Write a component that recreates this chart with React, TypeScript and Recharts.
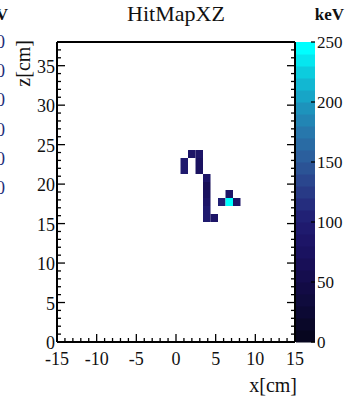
import React from 'react';
import { ComposedChart, XAxis, YAxis, ReferenceArea } from 'recharts';

const W = 346;
const H = 405;
const FONT = '"Liberation Serif", "Times New Roman", serif';

// axis ticks
const xTicks = [-15, -14, -13, -12, -11, -10, -9, -8, -7, -6, -5, -4, -3, -2, -1, 0, 1, 2, 3, 4, 5, 6, 7, 8, 9, 10, 11, 12, 13, 14, 15];
const xLabels = [-15, -10, -5, 0, 5, 10, 15];
const zTicks = [0, 1, 2, 3, 4, 5, 6, 7, 8, 9, 10, 11, 12, 13, 14, 15, 16, 17, 18, 19, 20, 21, 22, 23, 24, 25, 26, 27, 28, 29, 30, 31, 32, 33, 34, 35, 36, 37, 38];
const zLabels = [0, 5, 10, 15, 20, 25, 30, 35];
const keVTicks = [0, 50, 100, 150, 200, 250];

// histogram binning
const xBinLow = 0.57;
const xBinW = 0.945;
const zBinLow = 15.2;
const zBinW = 1.013;

// hit cells: column, row, energy [keV]
const hitCol = [1, 2, 0, 2, 0, 2, 3, 3, 3, 3, 3, 3, 4, 6, 5, 6, 7];
const hitRow = [8, 8, 7, 7, 6, 6, 5, 4, 3, 2, 1, 0, 0, 3, 2, 2, 2];
const hitE = [85, 80, 90, 70, 95, 75, 80, 60, 70, 85, 90, 95, 85, 80, 105, 245, 85];

// palette (0 .. 250 keV)
const paletteStops = ['#07061f', '#0d0a38', '#140c4c', '#1b1262', '#201c72', '#283a86', '#2c5898', '#2874aa', '#1c96be', '#0ec2d8', '#00ffff'];
const nBands = 25;
const zMax = 250;

// colour bar box (pixels), next to the frame
const CB = { x: 296, w: 19, top: 42, bottom: 342 };

function hex(c: string) {
  return [1, 3, 5].map((i) => parseInt(c.slice(i, i + 2), 16));
}
function bandColor(k: number) {
  const t = (k / (nBands - 1)) * (paletteStops.length - 1);
  const i = Math.min(Math.floor(t), paletteStops.length - 2);
  const f = t - i;
  const a = hex(paletteStops[i]);
  const b = hex(paletteStops[i + 1]);
  const c = a.map((v, j) => Math.round(v + (b[j] - v) * f));
  return `rgb(${c[0]},${c[1]},${c[2]})`;
}
function colorOf(e: number) {
  return bandColor(Math.min(nBands - 1, Math.floor((e / zMax) * nBands)));
}
const cbY = (v: number) => CB.bottom - (v / zMax) * (CB.bottom - CB.top);

function makeTick(side: 'bottom' | 'top' | 'left' | 'right', labels: number[], showLabels: boolean) {
  return (props: any) => {
    const { x, y, payload } = props;
    const v = payload.value;
    const len = labels.includes(v) ? 8 : 4;
    let line;
    if (side === 'bottom') line = <line x1={x} x2={x} y1={y} y2={y - len} />;
    else if (side === 'top') line = <line x1={x} x2={x} y1={y} y2={y + len} />;
    else if (side === 'left') line = <line x1={x} x2={x + len} y1={y} y2={y} />;
    else line = <line x1={x} x2={x - len} y1={y} y2={y} />;
    let label = null;
    if (showLabels && labels.includes(v)) {
      if (side === 'bottom')
        label = <text x={x} y={y + 23} textAnchor="middle">{v}</text>;
      else if (side === 'left')
        label = <text x={x - 2} y={y + 7} textAnchor="end">{v}</text>;
    }
    return (
      <g stroke="#000" strokeWidth={1.3} fill="#111" fontSize={18} fontFamily={FONT}>
        {line}
        {label && <g stroke="none">{label}</g>}
      </g>
    );
  };
}

const bottomTick = makeTick('bottom', xLabels, true);
const topTick = makeTick('top', xLabels, false);
const leftTick = makeTick('left', zLabels, true);
const rightTick = makeTick('right', zLabels, false);

const axisLine = { stroke: '#000', strokeWidth: 2 };
const bands = Array.from({ length: nBands }, (_, k) => k);
const sideZeros = [48, 77, 106, 136, 165, 194];

export default function App() {
  return (
    <div style={{ position: 'fixed', left: 0, top: 0, width: W, height: H, background: '#fff', overflow: 'hidden' }}>
      <div style={{ position: 'absolute', left: 0, top: 0 }}>
        <ComposedChart width={W} height={H} margin={{ top: 41, right: 50, bottom: 62, left: 56 }}>
          <XAxis xAxisId="b" type="number" dataKey="x" domain={[-15, 15]} ticks={xTicks} interval={0} height={1}
            allowDataOverflow tickSize={0} tickMargin={0} tickLine={false} axisLine={axisLine}
            tick={bottomTick} />
          <XAxis xAxisId="t" orientation="top" type="number" domain={[-15, 15]} ticks={xTicks} interval={0} height={1}
            allowDataOverflow tickSize={0} tickMargin={0} tickLine={false} axisLine={axisLine}
            tick={topTick} />
          <YAxis yAxisId="l" type="number" domain={[0, 38]} ticks={zTicks} interval={0} width={1}
            allowDataOverflow tickSize={0} tickMargin={0} tickLine={false} axisLine={axisLine}
            tick={leftTick} />
          <YAxis yAxisId="r" orientation="right" type="number" domain={[0, 38]} ticks={zTicks} interval={0} width={1}
            allowDataOverflow tickSize={0} tickMargin={0} tickLine={false} axisLine={axisLine}
            tick={rightTick} />
          {hitCol.map((c, i) => (
            <ReferenceArea key={i} xAxisId="b" yAxisId="l"
              x1={xBinLow + c * xBinW} x2={xBinLow + (c + 1) * xBinW}
              y1={zBinLow + hitRow[i] * zBinW} y2={zBinLow + (hitRow[i] + 1) * zBinW}
              fill={colorOf(hitE[i])} fillOpacity={1} stroke="none" ifOverflow="hidden" />
          ))}
        </ComposedChart>
      </div>
      <svg width={W} height={H} style={{ position: 'absolute', left: 0, top: 0, pointerEvents: 'none' }}
        fontFamily={FONT} fill="#111">
        {/* palette */}
        {bands.map((k) => (
          <rect key={k} x={CB.x} width={CB.w} y={cbY(((k + 1) * zMax) / nBands)}
            height={cbY((k * zMax) / nBands) - cbY(((k + 1) * zMax) / nBands) + 0.5} fill={bandColor(k)} />
        ))}
        {keVTicks.map((v) => (
          <g key={v}>
            <line x1={CB.x + CB.w} x2={CB.x + CB.w - 4} y1={cbY(v)} y2={cbY(v)} stroke="#000" strokeWidth={1.3} />
            <text x={CB.x + CB.w + 2} y={cbY(v) + 6} fontSize={17}>{v}</text>
          </g>
        ))}
        <text x={176} y={21} textAnchor="middle" fontSize={22}>HitMapXZ</text>
        <text x={344} y={20} textAnchor="end" fontSize={17} fontWeight="bold">keV</text>
        <text x={8} y={20} textAnchor="end" fontSize={17} fontWeight="bold">keV</text>
        {sideZeros.map((y, i) => (
          <text key={i} x={-4} y={y} fontSize={18} fill="#1c2c7a">0</text>
        ))}
        <text x={297} y={392} textAnchor="end" fontSize={20}>x[cm]</text>
        <text transform="translate(30,40) rotate(-90)" textAnchor="end" fontSize={20}>z[cm]</text>
      </svg>
    </div>
  );
}
